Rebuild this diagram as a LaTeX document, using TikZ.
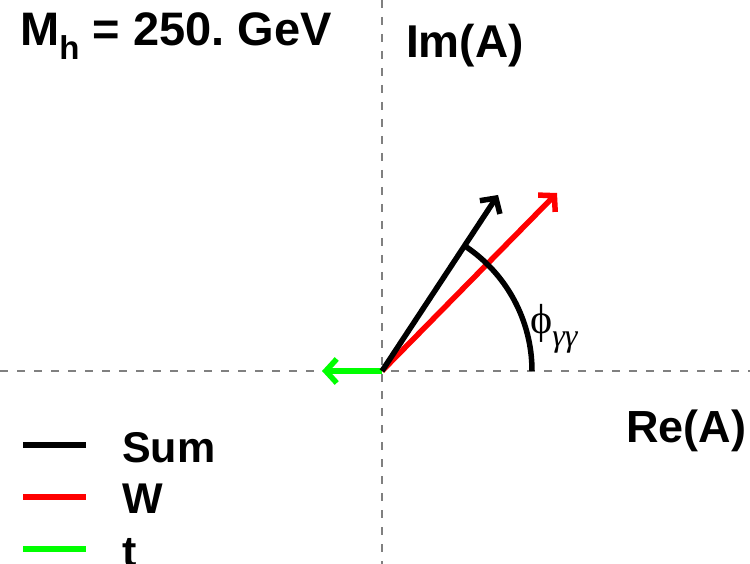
\documentclass[tikz,border=0pt]{standalone}
\usepackage{fontspec}
\setmainfont{Liberation Sans}
\newfontfamily\symfont{Liberation Serif}
\usetikzlibrary{arrows.meta}
\frenchspacing
\begin{document}
\begin{tikzpicture}[x=1pt,y=-1pt,
  axis/.style={gray,line width=1.5pt,dash pattern=on 8pt off 9pt},
  vec/.style={line width=5.5pt,-{Straight Barb[length=11pt,width=24pt,line width=5.5pt]}},
  lbl/.style={font=\fontsize{43}{48}\selectfont\bfseries,inner sep=0pt,anchor=base west},
  leg/.style={line width=5.5pt}]
\useasboundingbox (0,0) rectangle (750,564);
\coordinate (O) at (382,371);
\coordinate (xl) at (0,371);
\coordinate (xr) at (750,371);
\coordinate (yt) at (382,0);
\coordinate (yb) at (382,564);
\draw[axis] (xl) -- (xr);
\draw[axis] (yt) -- (yb);
\coordinate (S) at (498,195);
\coordinate (W) at (557,193);
\coordinate (T) at (322,371);
\draw[vec,red] (O) -- (W);
\draw[vec,green] (O) -- (T);
\draw[vec,black] (O) -- (S);
\coordinate (A0) at (532,371);
\draw[line width=5.5pt] (A0) arc[start angle=0,end angle=-56.7,radius=150];
\node[lbl,font=\fontsize{47}{50}\selectfont\bfseries] (mh) at (20,46) {M\raisebox{-0.28em}{\fontsize{33}{34}\selectfont h} = 250. GeV};
\node[lbl,font=\fontsize{46}{50}\selectfont\bfseries] (im) at (406,58) {Im(A)};
\node[lbl,font=\fontsize{45}{50}\selectfont\bfseries] (re) at (626,442) {Re(A)};
\node[inner sep=0pt,anchor=base west,font=\symfont\fontsize{42}{44}\selectfont] (phi) at (530,334) {\char"03D5\raisebox{-0.3em}{\fontsize{32}{32}\selectfont\itshape γγ}};
\coordinate (l1a) at (23,445); \coordinate (l1b) at (86,445);
\coordinate (l2a) at (23,497); \coordinate (l2b) at (86,497);
\coordinate (l3a) at (23,549); \coordinate (l3b) at (86,549);
\draw[leg,black] (l1a) -- (l1b);
\draw[leg,red] (l2a) -- (l2b);
\draw[leg,green] (l3a) -- (l3b);
\node[lbl] (sum) at (122,462) {Sum};
\node[lbl] (w) at (122,513) {W};
\node[lbl] (t) at (122,566) {t};
\end{tikzpicture}
\end{document}
